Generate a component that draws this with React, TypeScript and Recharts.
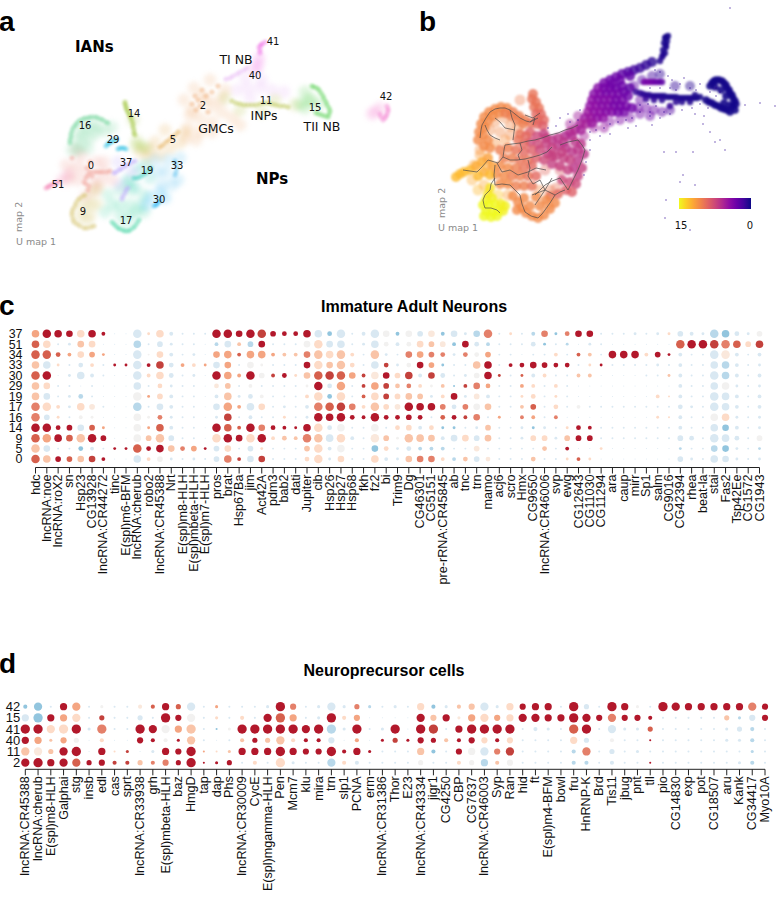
import React from "react";
import { ScatterChart, Scatter, XAxis, YAxis, ReferenceArea } from "recharts";

const SANS = "'Liberation Sans', Arial, sans-serif";
const DJ = "'DejaVu Sans', sans-serif";

/* ---------- panel c ---------- */
const rowsC = ["37","51","34","33","30","29","19","17","16","14","9","5","0"];
const genesC = ["hdc","lncRNA:noe","lncRNA:roX2","sn","Hsp23","CG13928","lncRNA:CR44272","tinc","E(spl)m6-BFM","lncRNA:cherub","robo2","lncRNA:CR45388","Nrt","E(spl)m8-HLH","E(spl)mbeta-HLH","E(spl)m7-HLH","pros","brat","Hsp67Ba","jim","Act42A","pdm3","bab2","dati","Jupiter","cib","Hsp26","Hsp27","Hsp68","fkh","fz2","bi","Trim9","Dg","CG46301","CG5151","pre-rRNA:CR45845","ab","tnc","trn","mamo","acj6","scro","Hmx","CG9650","lncRNA:CR46006","svp","ewg","CG12643","CG11030","CG11294","ara","caup","mirr","Sp1","salm","CG9016","CG42394","rhea","beat-la","stai","Fas2","Tsp42Ee","CG1572","CG1943"];

const s37=[7,8,7,6,7,7,3,0,0,8, 2,7,3,1,1,1,8,8,6,8, 8,5,4,4,7,7,4,8,1,3, 8,6,3,6,5,6,3,6,2,6, 8,1,2,1,3,6,2,4,6,6, 1,1,1,2,1,2,2,5,3,2, 8,7,4,2,5];
const z37=[2,4,4,4,1,4,4,-1,-1,-1, 1,1,-1,-1,-1,-1,4,4,4,4, 3.5,4,4,4,4,-1,-2,-1,-1,-1, -1,0,-2,0,-1,0.5,-2,-1,-1,-1.5, 2.5,-1,1,-1,-1.5,2.5,-2,2.5,4,4, -1,-1,-1,-1,-1,-1,1,-1,-1,-1, -1.5,-2,-1,-1,0];
const s51=[7,7,1,2,6,6,0,0,0,7, 1,5,2,1,1,0,3,6,3,5, 6,1,1,1,6,8,6,7,1,2, 7,4,3,4,6,5,5,3,6,4, 3,1,1,1,4,2,1,2,0,2, 1,0,0,0,0,0,0,8,8,8, 8,8,7,5,7];
const z51=[3,1,-1,-1,1.5,1,-1,-1,-1,-1.5, -1,-1,-1,-1,-1,-1,-1.5,-1,1.5,-1.5, 4,-1,-1,-1,0,1,-1,-1,-1,-1, -1,0,-1,0,1,1.5,0.5,-2,4,-1, -1.5,-1,-1,-1,-1,-2,-1,-1.5,-1,-1, -1,-1,-1,-1,-1,-1,-1,3,4,4, 3.5,2.5,3,1,3.5];
const s34=[8,8,4,3,6,5,2,0,0,8, 1,6,3,1,2,0,6,7,3,7, 7,3,3,3,6,8,7,8,3,1, 8,2,1,6,6,5,4,2,4,4, 5,1,1,0,1,1,3,1,3,3, 1,7,7,7,3,5,2,3,1,1, 8,8,3,1,3];
const z34=[3,3,3,2,1,2,2,-1,-1,-1, 0,1,-1,-1,-1,-1,2,2,3,2, 2,2,1.5,1.5,2.5,1.5,1,1.5,1,-1, 1.5,-1,-1,2.5,2,2.5,2.5,-1,2.5,0, 2,-1,-1,-1,-1,-1,1,-1,3,1.5, -1,4,4,4,1,4,4,-1,-1,-1, -1,0.5,-1,-1,-1];
const s33=[7,7,2,1,4,3,1,2,2,8, 3,7,4,3,3,2,6,6,1,6, 2,1,1,1,6,8,6,8,4,1, 7,4,2,4,6,5,2,1,1,7, 7,1,3,4,6,5,4,4,1,2, 2,1,1,1,1,2,1,3,1,1, 7,7,3,1,2];
const z33=[1.5,-1,1,-1,-1,1,-1,4,4,-1, 4,3.5,-1,2,1,2,-1,2,-1,0, 0,-1,-1,-1,4,1,1.5,1.5,1,-1, -1,3.5,-1,0,4,2,-2,-1,-1,1.5, 4,-1,4,4,4,4,4,4,-1,1, 4,-1,-1,-1,-1,-1,-1,-1,-1,-1, -1,-1.5,-1,-1,-1];
const s30=[8,8,0,2,7,3,1,0,0,8, 3,7,4,1,2,0,8,7,3,8, 5,3,4,2,6,8,8,8,6,3, 7,6,5,7,3,6,4,1,2,5, 7,2,1,2,3,3,1,1,3,3, 0,0,0,0,1,1,2,3,1,1, 8,7,3,1,3];
const z30=[3,4,-1,-1,-1,-1,-1,-1,-1,-1, 1,1,-1,-1,-1,-1,4,2,2,4, 0,3.5,4,1,1.5,3,3.5,3,2,3.5, 0.5,4,1,3.5,-1,3.5,-1,-1,-1,0, 4,3.5,-1,3,-1,1,-1,-1,1.5,1.5, -1,-1,-1,-1,-1,-1,1.5,-1,-1,-1, -1,-1.5,-1,-1,-1];
const s29=[7,6,1,1,0,1,0,0,0,7, 1,4,2,1,1,0,4,5,1,3, 1,1,1,1,2,8,4,8,1,3, 7,5,4,4,3,2,3,1,3,6, 4,1,1,3,3,1,3,1,0,0, 0,0,0,0,0,0,0,3,1,1, 7,7,2,1,2];
const z29=[1.5,1,-1,-1,-1,-1,-1,-1,-1,-1, -1,1,-1,-1,-1,-1,0.5,1.5,-1,0, -1,-1,-1,-1,0,4,-1,2,-1,3.5, 2,3.5,1.5,2.5,1,0,1.5,-2,3.5,2.5, 2,-1,-1,2,1,-1,1,-1,-1,-1, -1,-1,-1,-1,-1,-1,-1,-1,-1,-1, -1,0,-1,-1,-1];
const s19=[7,6,1,2,4,1,0,0,0,8, 2,5,3,1,1,0,3,7,2,4, 3,1,1,1,3,8,4,8,1,3, 7,5,5,6,5,2,3,6,2,5, 3,1,1,2,4,1,2,1,0,0, 0,0,0,0,0,3,1,3,1,1, 8,7,3,1,3];
const z19=[1.5,-1,-1,-1,-1.5,-1,-1,-1,-1,0, 2,1,-1,-1,-1,-1,-1,1.5,-1,-1, 0,-1,-1,-1,1,1,-2,1,-1,3, 1,3.5,1,1.5,1.5,-1,1,4,-1,0.5, -1,-1,-1,1,1,-1,1,-1,-1,-1, -1,-1,-1,-1,-1,1,1,-1,-1,-1, -1,-1,-1,-1,-1];
const s17=[8,8,3,2,7,5,1,0,0,8, 1,6,3,1,1,0,6,8,3,7, 6,1,2,1,3,8,8,8,6,3, 8,5,5,8,7,7,5,4,5,6, 6,1,1,3,5,1,4,1,3,1, 1,1,1,1,1,1,1,4,2,1, 8,7,3,1,3];
const z17=[2.5,1,1,-1,1,0.5,-1,-1,-1,-1.5, -1,-1,-1,-1,-1,-1,-1,2,2,-1, 1,-1,-1,-1,-1,2.5,3,3.5,2.5,1, 1.5,1,0.5,4,4,4,2.5,-1,2.5,0, 1.5,-1,-1,1.5,3,-1,1,-1,0,-1, -1,-1,-1,-1,-1,-1,-1,-1,-1,-1, -1,-1,-1,-1,-1];
const s16=[8,5,2,1,3,2,0,0,0,7, 2,4,2,1,1,0,2,7,1,3, 1,1,2,1,2,8,7,8,4,3, 8,4,4,5,4,1,4,4,3,6, 1,2,0,3,3,1,3,0,0,0, 0,0,0,0,0,2,1,3,1,1, 7,7,2,1,2];
const z16=[2.5,-1,1,-1,0,0,-1,-1,-1,0, 0,2.5,-1,-1,-1,-1,-1,3.5,-1,-1, -1,-1,1,-1,-1,4,4,4,4,4, 4,4,4,4,4,-1,3,4,3.5,2.5, -1,2,-1,2.5,2,-1,2.5,-1,-1,-1, -1,-1,-1,-1,-1,1,1,-1,-1,-1, 0,1,-1,-1,-1];
const s14=[8,8,4,5,6,5,2,0,0,7, 2,7,3,1,1,0,8,7,3,8, 6,4,3,2,7,8,4,7,1,1, 7,1,4,5,3,4,2,2,1,2, 5,1,1,2,2,2,1,2,4,3, 1,1,1,1,1,1,1,3,1,1, 7,6,3,1,2];
const z14=[4,4,4,4,-1,3,2,-1,-1,0, 2,3,-1,-1,-1,-1,4,3,3,4, 2.5,4,4,4,4,1,-1,0,-1,-1, 0,-1,1,1,-1,1,-2,-2,-1,-1, 1.5,-1,-1,-1,-2,-1,-1,1,4,4, -1,-1,-1,-1,-1,-1,-1,-1,-1,-1, -1,-2,-1,-1,-1];
const s9=[8,8,7,6,8,8,5,0,0,7, 5,8,5,1,1,0,8,8,6,8, 8,3,4,3,8,8,7,8,3,1, 8,5,2,8,7,6,3,6,6,5, 6,1,1,2,5,5,2,5,5,5, 1,1,1,1,1,1,1,5,4,1, 8,7,4,1,5];
const z9=[3,2,4,3,1.5,4,4,-1,-1,0, 1.5,1.5,-1,-1,-1,-1,1,4,4,1, 4,1,1.5,1.5,2.5,1.5,-1,1,-1,-1, 0.5,1.5,0,1.5,1.5,1.5,-1,-1,1,-1, 1.5,-1,-1,-1,1,1,-1,1.5,4,4, -1,-1,-1,-1,-1,-1,-1,-1,-1,-1, -1,-1,-1,-1,0];
const s5=[8,6,1,1,4,3,1,2,2,8, 4,7,6,4,5,2,5,6,1,5, 2,1,1,1,5,8,3,7,1,1, 6,4,2,4,3,3,3,1,1,5, 1,1,1,1,1,4,1,3,0,0, 2,0,0,0,0,0,0,2,1,1, 6,6,2,1,2];
const z5=[1.5,-1,-1,-1,-2,-1,-1,4,4,3, 4,4,1.5,2.5,2,4,-1,1,-1,-1, 1,-1,-1,-1,1.5,1,-1,0,-1,-1, -2,1,-1,-1,-1.5,-1.5,-1.5,-1,-1,0.5, -1,-1,-1,-1,-1,1.5,-1,4,-1,-1, 1,-1,-1,-1,-1,-1,-1,-1.5,-1,-1, -1.5,-2,-1,-1,-1.5];
const s0=[8,7,5,5,6,6,3,0,0,7, 3,5,2,1,2,1,5,7,3,6, 6,1,1,1,4,8,2,6,1,1, 7,3,2,6,6,6,3,3,4,5, 4,1,1,1,4,1,1,2,3,2, 0,0,0,0,0,0,0,5,2,1, 7,6,2,1,2];
const z0=[3,1.5,4,3,1.5,3.5,4,-1,-1,-1, 1,0,-1,-1,-1,-1,-1,2.5,3.5,-1, 3.5,-1,-1,-1,1,1,-1,1,-1,-1, 1,-1,-1,1.5,2.5,2.5,1,-1.5,1.5,-1, 0.5,-1,-1,-1,1.5,-1,-1,1,3,1, -1,-1,-1,-1,-1,-1,-1,-1,-1,-1, -1,-1,-1,-1,-1];
const sizesC=[s37,s51,s34,s33,s30,s29,s19,s17,s16,s14,s9,s5,s0];
const colorsC=[z37,z51,z34,z33,z30,z29,z19,z17,z16,z14,z9,z5,z0];

/* ---------- panel d ---------- */
const rowsD = ["42","15","41","40","11","2"];
const genesD = ["lncRNA:CR45388","lncRNA:cherub","E(spl)m8-HLH","Galphai","stg","insb","edl","cas","sprt","lncRNA:CR33938","grh","E(spl)mbeta-HLH","baz","HmgD","tap","dap","Phs","lncRNA:CR30009","CycE","E(spl)mgamma-HLH","Pen","Mcm7","klu","mira","trn","slp1","PCNA","erm","lncRNA:CR31386","Thor","E23","lncRNA:CR43334","jigr1","CG4250","CBP","CG7637","lncRNA:CR46003","Syp","Ran","hid","ft","E(spl)m4-BFM","bowl","fru","HnRNP-K","Brd","Tis11","jbug","pnt","tll","pio","CG14830","exp","pot","CG18507","aru","Kank","CG34417","Myo10A"];
const sd42=[3,7,1,6,7,1,2,1,1,3, 3,6,4,7,1,2,1,1,1,2, 8,5,1,2,7,2,4,2,1,2, 1,6,3,2,3,5,7,2,6,5, 6,6,1,8,4,1,8,6,2,1, 8,7,6,6,6,6,6,7,5];
const zd42=[-2,-2,-1,4,2,-1,0,-1,-1,0.5, 3,4,3,-1,-1,2,-1,-1,-1,-1, 4,2.5,-1,-1,-1,-1,2.5,-1.5,-1,-1, -1,1,-2,-1,1.5,1.5,-1,-1,1,4, 4,4,-1,4,-1,-1,4,4,0,-1, 4,4,4,4,4,4,4,2.5,4];
const sd15=[6,8,6,6,7,1,4,1,1,4, 1,8,5,7,1,2,1,3,1,7, 8,6,1,2,8,3,5,0,0,0, 0,7,5,6,2,6,7,5,6,7, 7,6,6,8,7,5,7,5,5,3, 1,1,1,1,1,4,2,5,5];
const zd15=[-1,-2,4,2,1,-1,3.5,-1,-1,-1, -1,4,4,0,-1,1,-1,1,-1,4, 3,2,-1,-1,4,1,2,-1,-1,-1, -1,4,1.5,4,0.5,2,1,2,1,4, 4,4,4,4,4,4,2.5,4,4,4, -1,-1,-1,-1,-1,1.5,-1.5,-1,4];
const sd41=[8,8,7,8,8,2,8,1,1,8, 7,7,6,8,1,1,2,8,8,8, 8,8,7,8,8,2,8,1,2,8, 0,8,8,1,6,8,8,8,8,1, 3,2,1,8,8,1,7,2,2,4, 1,1,1,1,1,2,4,3,1];
const zd41=[4,4,1,1,4,-1,2.5,-1,-1,4, 4,0,2,1.5,-1,-2,0,4,4,4, 4,4,4,4,-1.5,-1,4,-1,-1,4, -1,4,3.5,-1,4,4,4,4,4,-1, -1,-1,-1,3,4,-1,-1,-1,-1,3, -1,-1,-1,-1,-1,-1,-1,-1.5,-1];
const sd40=[6,6,2,5,4,0,3,0,0,5, 3,3,2,7,1,0,1,3,4,4, 7,3,3,3,5,0,3,0,2,4, 2,5,4,3,3,5,5,3,5,1, 1,1,1,6,4,0,3,1,1,1, 1,1,1,1,1,2,2,3,1];
const zd40=[4,2,1.5,2,0,-1,1,-1,-1,4, 4,0,4,1.5,-1,-1,-1,1.5,4,1.5, 1.5,1,4,4,-1,-1,2,-1,4,3.5, 4,4,4,1.5,4,4,1,4,1,-1, -1,-1,-1,1,-1,-1,0,-1,-1,4, -1,-1,-1,-1,-1,-1,-1,-1.5,-1];
const sd11=[7,7,4,7,8,0,6,1,2,0, 2,6,5,8,1,1,2,6,6,6, 8,6,5,5,8,3,6,2,1,1, 1,6,3,1,5,6,7,5,7,1, 1,1,1,3,7,1,4,1,2,1, 1,1,1,1,1,1,1,2,1];
const zd11=[1.5,0.5,1.5,4,4,-1,4,1,3.5,-1, -1,4,4,4,2,1,1.5,4,4,4, 4,4,4,4,4,4,4,4,-1,-1, -1,1.5,-2,-1,4,0,-1,2.5,3.5,-1, -1,-1,-1,-1.5,2.5,-1,-1,-1,-1,-1, -1,-1,-1,-1,-1,-1,-1,-1.5,-1];
const sd2=[7,8,6,7,7,4,5,3,3,4, 3,5,4,8,1,2,4,1,3,1, 8,2,1,1,7,3,3,1,1,1, 1,4,1,1,3,4,6,3,5,1, 1,1,1,3,3,1,3,1,1,1, 1,1,1,1,1,1,2,3,1];
const zd2=[4,4,4,4,3,4,4,3.5,3.5,1.5, 2.5,2.5,4,4,4,4,4,-1,1,-1, 1,-1,-1,-1,-1.5,1,-1,-1,-1,-1, -1,0,-1,-1,1,0,-1.5,1.5,0,-1, -1,-1,-1,-1.5,-1.5,-1,-1,-1,-1,4, -1,-1,-1,-1,-1,-1,-1,-1.5,-1];
const sizesD=[sd42,sd15,sd41,sd40,sd11,sd2];
const colorsD=[zd42,zd15,zd41,zd40,zd11,zd2];

/* ---------- panel a: cluster point clouds ---------- */
const cl16=[[70,143],[70,140],[71,137],[71,134],[72,131],[73,128],[75,126],[76,124],[78,122],[80,120],[83,119],[85,118],[88,118],[90,117],[93,117],[96,117],[98,118],[101,119],[103,120],[106,122],[108,123]];
const cl16h=[[76,140],[80,132],[86,127],[92,125],[98,127],[105,131],[82,145],[90,138],[112,127],[72,150],[84,135],[96,133],[78,150],[88,148]];
const cl14=[[125,102],[125,104],[126,106],[126,108],[127,110],[128,112],[129,114],[130,116],[131,118],[132,121],[133,124],[133,127],[134,130],[134,133],[135,135]];
const cl14h=[[137,141],[142,147],[146,148],[136,146],[133,120]];
const cl29=[[106,146],[108,144],[109,143],[111,142],[113,141],[115,140],[117,139],[118,149],[120,148],[122,148],[124,148],[126,149]];
const cl0=[[90,172],[87,168],[92,176],[86,178],[84,182],[89,186],[94,172],[97,172],[100,172],[103,172],[107,172],[110,171],[72,158],[90,162],[88,175],[86,184],[88,190]];
const cl0h=[[78,165],[72,172],[68,180],[78,180],[96,162],[100,182],[104,162],[112,180],[96,190],[86,196],[76,150],[82,155],[66,165],[86,172],[94,182],[104,172]];
const cl51=[[46,188],[48,187],[49,186],[51,185],[53,184],[56,183],[58,182]];
const cl51h=[[62,180],[68,175]];
const cl9=[[72,215],[72,212],[73,209],[75,206],[76,203],[78,200],[80,198],[83,196],[85,195],[73,219],[74,222],[77,224],[80,226],[84,228],[87,228],[91,227],[94,226]];
const cl9h=[[92,192],[98,188],[82,210],[90,215],[97,204],[92,205],[85,203],[80,218],[88,220]];
const cl17=[[112,222],[114,224],[116,226],[118,228],[120,229],[123,230],[125,231],[128,231],[130,230],[133,228],[135,226],[137,223],[139,220]];
const cl17h=[[112,205],[120,205],[130,205],[140,205],[120,215],[130,215],[144,212],[108,195],[120,190],[132,190],[144,195],[105,212],[128,183],[126,222],[136,212]];
const cl30=[[154,206],[156,205],[157,204],[159,202],[160,200]];
const cl30h=[[150,197],[160,192],[165,198],[146,205]];
const cl33=[[175,175],[176,172],[177,168],[176,164],[175,161]];
const cl33h=[[168,160],[166,172],[172,185],[178,180],[180,158],[162,185],[158,172],[155,160]];
const cl19=[[134,178],[137,178],[140,177],[143,175],[146,173],[149,170],[151,168]];
const cl19h=[[128,180],[138,170],[145,165],[150,178],[135,187]];
const cl37=[[114,173],[116,172],[119,170],[121,169],[124,167],[126,165],[129,164],[132,162],[135,161],[122,199],[123,196],[125,193],[126,190],[128,188]];
const cl37h=[[118,162],[132,172],[120,185]];
const cl5=[[160,147],[163,145],[166,142],[169,140],[172,137],[175,135],[178,132]];
const cl5h=[[150,150],[155,142],[170,148],[180,143],[160,155],[148,158],[140,152],[185,132],[165,130]];
const cl2=[[195,96],[202,90],[192,104],[200,106],[208,112],[212,92],[218,86],[198,100],[206,96],[196,110]];
const cl2h=[[190,115],[200,118],[212,122],[222,112],[232,118],[220,100],[188,128],[200,132],[212,132],[225,90],[240,125],[184,100],[206,100],[196,140],[186,138],[210,80],[194,88],[202,96],[212,106],[192,110]];
const cl40=[[226,79],[230,78],[233,76],[237,74],[240,72],[244,70],[247,68]];
const cl40h=[[237,90],[248,88],[260,88],[272,90],[284,92],[245,78],[262,80],[250,98]];
const cl41=[[259,47],[261,45],[262,44],[265,42],[260,50],[260,53]];
const cl41h=[[259,58],[258,65],[255,70]];
const cl11=[[232,101],[236,103],[240,104],[244,105],[248,105],[252,105],[256,105],[260,104],[264,103],[268,103],[272,104],[276,105],[280,106],[284,106],[288,107]];
const cl11h=[[240,110],[262,112],[275,100],[295,105],[225,98]];
const cl15=[[312,86],[314,87],[317,88],[319,90],[321,93],[323,96],[324,99],[326,102],[327,105],[329,108],[330,111],[329,114],[328,117],[325,116],[322,115],[319,114],[316,113]];
const cl15h=[[305,92],[308,100],[305,108],[312,100],[318,105],[300,104]];
const cl42=[[387,106],[388,109],[388,111],[387,114],[386,116],[385,118],[383,120],[381,117],[380,114]];
const cl42h=[[375,112],[380,108],[372,114]];
const clusterColors=["#f09e94","#efae78","#e4ad55","#d8c674","#b8c44c","#a4c845","#5fd35c","#78d8a0","#50d8a8","#3ccdbd","#38c4e4","#30b8f4","#62c4f0","#bda8fa","#e6b4f5","#f070e6","#f488d2","#f58ab8"];
const cloudCores=[cl0,cl2,cl5,cl9,cl11,cl14,cl15,cl16,cl17,cl19,cl29,cl30,cl33,cl37,cl40,cl41,cl42,cl51];
const cloudHaze=[cl0h,cl2h,cl5h,cl9h,cl11h,cl14h,cl15h,cl16h,cl17h,cl19h,[],cl30h,cl33h,cl37h,cl40h,cl41h,cl42h,cl51h];

/* ---------- panel b: pseudotime cloud [x,y,value] ---------- */
const bTop=[[668,36,.3],[666,37,.3],[665,38,.3],[667,41,.3],[664,43,.3],[666,45,.4],[666,47,.4],[663,50,.4],[665,53,.5],[663,55,.5],[662,57,.6],[660,61,.7]];
const bNeck=[[652,62,.8],[646,65,1],[640,68,1.2],[634,70,1.5],[628,72,2],[622,74,2.5],[616,77,3],[610,80,3],[604,83,3.5],[630,76,2.5],[620,80,3],[612,84,3.2]];
const bCentre=[[598,88,4],[604,88,3.5],[610,88,3.5],[616,88,3],[622,86,3],[594,94,4],[600,94,4],[606,94,3.5],[612,94,3.5],[618,94,3.5],[624,92,3],[630,88,2.5],[592,100,4.5],[598,100,4],[604,100,4],[610,100,4],[616,100,3.5],[622,100,3.5],[628,96,3],[590,106,4.5],[596,106,4.5],[602,106,4],[608,106,4],[614,106,3.5],[620,106,3.5],[626,106,3.5],[632,108,3.2],[588,112,5],[594,112,4.5],[600,112,4.5],[606,112,4],[612,112,4],[618,112,3.5],[624,112,3.5],[585,118,5],[591,118,5],[597,118,4.5],[603,118,4.5]];
const bCloud=[[638,108,3],[646,108,3],[654,110,2.8],[662,112,2.6],[670,110,2],[640,114,3.2],[650,116,3],[630,118,3.5],[620,120,3.8],[610,122,4],[640,100,2.8],[634,86,2.6],[642,80,2],[652,76,1.5],[660,74,1],[675,86,1],[690,86,.8],[604,128,4.8],[594,128,5],[584,136,5.5],[578,116,5.2],[570,124,5.5]];
const bStem=[[580,124,5.5],[586,124,5.5],[592,123,5],[575,130,6],[581,130,5.5],[570,132,6],[565,136,6],[572,136,6],[558,138,6.5],[564,142,6.5],[552,140,6.5],[558,146,6.5],[546,144,7],[552,148,7],[566,148,6.5],[575,142,6.5],[572,152,6.5],[578,150,6.5],[578,160,6.5],[574,168,6.5],[581,144,6.5],[584,154,6.5],[582,168,7],[578,176,7],[570,160,7],[562,152,7],[552,156,7.5],[546,138,7]];
const bNavy=[[636,92,1.2],[640,93,1],[643,94,.9],[646,95,.8],[649,95,.8],[652,96,.7],[655,96,.6],[658,96,.6],[661,96,.6],[664,96,.5],[667,97,.5],[670,97,.5],[673,97,.5],[676,97,.5],[679,98,.5],[682,98,.4],[685,98,.4],[688,98,.4],[691,98,.4],[694,98,.4],[697,98,.3],[700,97,.3],[676,102,.8],[670,106,1.2],[682,102,.6],[662,100,.8],[654,100,1],[646,99,1.2],[690,102,.6],[695,95,.4]];
const bStreak=[[644,82,3.5],[647,82,3.5],[650,82,3.5],[653,82,3.2],[656,82,3],[659,82,2.8],[662,82,2.5]];
const bTii=[[710,86,.2],[714,81,.2],[719,80,.2],[724,83,.2],[727,88,.2],[730,93,.2],[733,98,.2],[736,104,.2],[735,110,.2],[730,112,.2],[724,109,.2],[718,106,.2],[712,103,.3],[706,100,.3],[724,103,.2],[730,105,.2],[726,96,.2],[721,90,.2],[715,87,.3],[712,83,.2],[716,80,.2],[722,81,.2],[726,85,.2],[729,90,.2],[732,95,.2],[735,101,.2],[733,106,.2],[727,110,.2],[721,108,.2],[715,105,.2],[709,102,.3]];
const bLobe=[[478,140,10],[479,132,10],[481,124,10],[484,117,10],[489,112,10],[495,109,10],[501,107,10],[507,108,10],[513,112,9.5],[519,116,9.5],[525,120,9.5],[531,123,9],[537,124,8.5],[533,94,9],[532,99,9],[536,102,9],[534,107,9],[539,108,9],[536,114,8.5],[541,114,8.5],[538,120,8.5],[544,120,8.5],[543,126,8],[484,146,10],[490,148,10],[488,140,10],[483,135,10],[485,127,10],[488,121,10],[493,116,10],[499,113,10],[505,113,9.5],[511,116,9.5],[517,120,9.5],[523,124,9.5],[530,132,8],[537,136,7.5],[544,134,7],[530,142,7.5],[538,144,7.5],[520,134,9],[526,136,8.5],[518,140,9],[524,144,8.5]];
const bInner=[[495,122,10],[505,118,10],[490,130,10],[500,132,10],[510,135,10],[518,128,10],[495,143,10.5],[505,140,10.5],[510,126,10],[480,155,11],[487,165,11.5],[484,185,11.5],[472,180,11.5],[478,190,12],[474,165,11],[498,195,12.5],[508,195,11],[480,150,10.5],[540,190,10],[550,190,9.5],[548,205,10],[556,188,9],[560,170,8],[545,170,8.5],[520,100,9.5]];
const bMiddle=[[500,150,9.5],[508,148,9.5],[516,150,9],[524,152,8.5],[532,150,8],[540,150,7.5],[548,154,7],[556,156,7],[564,158,7],[504,158,9.5],[512,158,9.5],[520,160,9],[528,160,9],[536,158,8],[544,160,7.5],[552,164,7],[560,166,7],[568,170,7],[500,166,10],[508,168,10],[516,168,9.5],[524,168,9],[532,166,8.5],[496,174,10],[504,176,10],[512,176,9.5],[520,176,9.5],[528,176,9],[536,176,8.5],[500,184,10],[508,184,10],[516,186,9.5],[524,186,9.5],[532,186,9],[562,180,7.5],[570,182,7.5],[576,184,7.5],[566,190,8],[572,192,8],[558,194,8.5],[550,196,9]];
const bBottom=[[513,196,10],[518,202,10],[522,208,10],[526,213,10],[532,216,10],[538,218,10],[544,215,10],[550,209,10],[555,203,10],[530,206,10],[540,206,10],[524,198,10],[536,197,10],[546,200,10],[517,210,10]];
const bTail=[[456,177,12],[460,174,12],[464,172,12],[470,170,12],[476,166,11.5],[482,162,11.5],[488,158,11],[492,166,11],[484,172,11.5],[490,175,12],[478,176,12]];
const bYellow=[[490,188,13.5],[488,194,13.5],[486,200,14],[492,198,14],[483,205,15],[489,205,15],[495,204,14.5],[501,204,14],[505,206,14],[486,211,15],[492,212,15],[498,211,14.5],[503,211,14],[491,217,15],[484,216,15],[497,216,15]];
const bSparse=[[655,70],[660,72],[668,76],[672,80],[680,84],[690,88],[696,90],[700,84],[684,78],[676,90],[660,88],[650,88],[670,88],[640,105],[648,104],[656,106],[664,112],[650,112],[640,112],[632,118],[626,120],[618,122],[610,124],[604,128],[596,130],[590,132],[650,116],[660,118],[670,114],[682,110],[692,108],[700,104],[708,108],[704,116],[695,114],[703,124],[716,96],[720,92],[716,88],[710,92],[745,105],[760,103],[775,106],[578,120],[570,122],[556,126],[548,128],[560,118],[568,114],[580,110],[652,125],[636,126],[628,128],[610,134],[600,136],[590,140],[590,150],[584,175],[586,162],[720,140],[725,150],[715,142],[664,152],[676,152],[693,152],[683,175],[695,185],[680,182],[666,200],[665,218],[690,230],[710,132],[730,8]];
const bLines=[
 [[463,170],[470,171],[477,172],[482,167],[488,160],[498,163],[503,157],[510,160],[517,160],[525,159],[533,157],[540,155],[547,152],[552,147]],
 [[480,138],[481,130],[482,125],[486,118],[490,112],[495,109],[500,108],[505,108],[510,110],[515,114],[520,118],[526,121],[530,122],[538,118]],
 [[495,118],[500,122],[505,128],[510,129],[515,130]],
 [[510,110],[512,118],[515,125],[514,132],[513,140]],
 [[500,140],[495,138],[490,135],[487,130],[485,125]],
 [[503,157],[504,150],[505,145],[512,144],[520,143],[528,141],[535,140],[542,138],[550,135],[558,133],[565,130],[572,128],[578,125]],
 [[495,178],[491,184],[490,190],[485,195],[483,200],[484,205],[485,208],[491,208],[497,210],[500,213]],
 [[495,165],[494,175],[495,185],[502,184],[510,185],[515,190],[520,195],[522,204],[525,212],[531,216],[538,218],[542,214],[545,210],[550,203],[555,195],[560,192],[565,190]],
 [[535,195],[540,190],[545,185],[552,181],[560,178],[564,184],[568,190],[573,180],[578,170],[582,160],[585,150],[582,145],[578,140],[568,142],[560,145]],
 [[545,190],[532,195]],[[545,190],[535,205]],[[545,190],[540,180]],[[545,190],[552,178]],[[545,190],[555,195]],
 [[525,115],[533,118],[540,113]],[[530,122],[535,118],[533,125]],
 [[497,163],[502,172],[510,170],[518,175],[528,172],[536,168],[546,170]],
 [[528,160],[530,168],[528,176],[533,184],[540,180]],
 [[520,143],[522,150],[518,155],[520,160]],
];
const plasmaStops=["#0d0887","#41049d","#6a00a8","#8f0da4","#b12a90","#cc4778","#e16462","#f1844b","#fca636","#fcce25","#f0f921"];

/* ---------- helpers ---------- */
const divColor = (z: number): string => {
  const m: Record<string,string> = {"4":"#b2182b","3.5":"#c3413c","3":"#d6604d","2.5":"#e4806a","2":"#f4a582","1.5":"#f9c4a8","1":"#fddbc7","0.5":"#fae8dc","0":"#f2f1f0","-1":"#d9e8f2","-1.5":"#b8d8ea","-2":"#92c5de","-3":"#4393c3"};
  return m[String(z)] ?? "#f2f1f0";
};
const plasma = (v: number): string => {
  const shifted = v >= 8 ? v + 0.7 : v;
  const t = Math.min(0.9999, shifted / 15) * 10;
  const i = Math.floor(t);
  const a = plasmaStops[i], b = plasmaStops[i + 1];
  const p = (c: string, k: number) => parseInt(c.slice(k, k + 2), 16);
  const f = t - i;
  const mix = (k: number) => Math.round(p(a, k) * (1 - f) + p(b, k) * f);
  return `rgb(${mix(1)},${mix(3)},${mix(5)})`;
};
const dotTable = (sizes: number[][], colors: number[][]) =>
  sizes.flatMap((row, r) => row.map((s, g) => ({ g, r, s, z: colors[r][g] })));

const DotShape = (k: number) => (p: any) => (
  <circle cx={p.cx} cy={p.cy} r={0.5 + p.payload.s * k} fill={divColor(p.payload.z)} />
);
const NoShape = () => null;
const RoundShape = (r: number, color: string, op: number) => (p: any) => (
  <circle cx={p.cx} cy={p.cy} r={r} fill={color} fillOpacity={op} />
);
const ValueShape = (r: number, op: number) => (p: any) => (
  <circle cx={p.cx} cy={p.cy} r={r} fill={plasma(p.payload.v)} fillOpacity={op} />
);
const xy = (a: number[][]) => a.map(([x, y]) => ({ x, y }));
const xyv = (a: number[][]) => a.map(([x, y, v]) => ({ x, y, v }));

const GeneTick = (labels: string[]) => (p: any) => {
  const { x, y, payload } = p;
  return (
    <text x={x} y={y} transform={`rotate(-90 ${x} ${y})`} textAnchor="end" dominantBaseline="central"
      fontFamily={SANS} fontSize={12.6} fill="#111">
      {labels[payload.value]}
    </text>
  );
};

function DotPanel(props: any) {
  const { top, height, left, right, mTop, mBottom, axisH, yW, rows, genes, sizes, colors, yMax, yMin, k, tickM, rowFont } = props;
  const data = dotTable(sizes, colors);
  return (
    <div style={{ position: "absolute", left: 0, top }}>
      <ScatterChart width={780} height={height} margin={{ left, right, top: mTop, bottom: mBottom }}>
        <XAxis type="number" dataKey="g" domain={[0, genes.length - 1]} ticks={genes.map((_: any, i: number) => i)}
          interval={0} height={axisH} tick={GeneTick(genes)} tickSize={6} tickMargin={1} stroke="#222" />
        <YAxis type="number" dataKey="r" reversed domain={[yMin, yMax]} ticks={rows.map((_: any, i: number) => i)}
          interval={0} width={yW} axisLine={false} tickLine={false} tickSize={0} tickMargin={tickM}
          tickFormatter={(v: number) => rows[v]} tick={{ fontFamily: SANS, fontSize: rowFont, fill: "#111" }} />
        <Scatter data={data} isAnimationActive={false} shape={DotShape(k)} />
      </ScatterChart>
    </div>
  );
}

const T = (p: any) => <text {...p} />;

export default function App() {
  return (
    <div style={{ position: "absolute", left: 0, top: 0, width: 780, height: 897, background: "#fff", overflow: "hidden" }}>
      {/* panel a: haze layer, then cores */}
      <div style={{ position: "absolute", left: 0, top: 0, filter: "blur(2.5px)" }}>
        <ScatterChart width={400} height={260} margin={{ left: 0, right: 0, top: 0, bottom: 0 }}>
          <XAxis type="number" dataKey="x" domain={[0, 400]} hide />
          <YAxis type="number" dataKey="y" domain={[0, 260]} reversed hide />
          {cloudHaze.map((a, i) => (
            <Scatter key={"h" + i} data={xy(a)} isAnimationActive={false} shape={RoundShape(6.5, clusterColors[i], 0.2)} />
          ))}
        </ScatterChart>
      </div>
      <div style={{ position: "absolute", left: 0, top: 0, filter: "blur(1.2px)" }}>
        <ScatterChart width={400} height={260} margin={{ left: 0, right: 0, top: 0, bottom: 0 }}>
          <XAxis type="number" dataKey="x" domain={[0, 400]} hide />
          <YAxis type="number" dataKey="y" domain={[0, 260]} reversed hide />
          {cloudCores.map((a, i) => (
            <Scatter key={"c" + i} data={xy(a)} isAnimationActive={false} shape={RoundShape(2.6, clusterColors[i], 0.45)} />
          ))}
        </ScatterChart>
      </div>
      {/* panel b: cloud */}
      <div style={{ position: "absolute", left: 400, top: 0, filter: "blur(1.1px)" }}>
        <ScatterChart width={380} height={260} margin={{ left: 0, right: 0, top: 0, bottom: 0 }}>
          <XAxis type="number" dataKey="x" domain={[400, 780]} hide />
          <YAxis type="number" dataKey="y" domain={[0, 260]} reversed hide />
          <Scatter data={xyv(bInner)} isAnimationActive={false} shape={ValueShape(5.5, 0.38)} />
          <Scatter data={xyv(bCloud)} isAnimationActive={false} shape={ValueShape(5, 0.45)} />
          {[bCentre, bStem, bLobe, bMiddle, bBottom, bTail, bYellow, bNeck].map((a, i) => (
            <Scatter key={i} data={xyv(a)} isAnimationActive={false} shape={ValueShape(5, 0.8)} />
          ))}
          {[bNavy, bStreak, bTop].map((a, i) => (
            <Scatter key={"n" + i} data={xyv(a)} isAnimationActive={false} shape={ValueShape(3.2, 0.85)} />
          ))}
          <Scatter data={xyv(bTii)} isAnimationActive={false} shape={ValueShape(3.8, 0.9)} />
        </ScatterChart>
      </div>
      {/* panel b: trajectory, stray cells and colour bar */}
      <div style={{ position: "absolute", left: 400, top: 0 }}>
        <ScatterChart width={380} height={260} margin={{ left: 0, right: 0, top: 0, bottom: 0 }}>
          <defs>
            <linearGradient id="plasmaBar" x1="0" x2="1" y1="0" y2="0">
              {[...plasmaStops].reverse().map((c, i) => <stop key={c} offset={`${i * 10}%`} stopColor={c} />)}
            </linearGradient>
          </defs>
          <XAxis type="number" dataKey="x" domain={[400, 780]} hide />
          <YAxis type="number" dataKey="y" domain={[0, 260]} reversed hide />
          <Scatter data={xy(bSparse).map(d => ({ ...d, v: 1 }))} isAnimationActive={false} shape={ValueShape(0.7, 0.8)} />
          {bLines.map((l, i) => (
            <Scatter key={"l" + i} data={xy(l)} isAnimationActive={false} shape={NoShape}
              line={{ stroke: "#4a4a4a", strokeWidth: 0.7 }} />
          ))}
          <ReferenceArea x1={679} x2={751} y1={198} y2={209} fill="url(#plasmaBar)" fillOpacity={1} stroke="none" />
        </ScatterChart>
      </div>
      <DotPanel top={320} height={290} left={5.5} yW={30} right={20.5} mTop={10.6} mBottom={12.5} axisH={130} rowFont={12.4}
        rows={rowsC} genes={genesC} sizes={sizesC} colors={colorsC} yMin={-0.3} yMax={12.81} k={0.47} tickM={13} />
      <DotPanel top={695} height={202} left={0} yW={25.3} right={15} mTop={8.3} mBottom={7.7} axisH={120} rowFont={13}
        rows={rowsD} genes={genesD} sizes={sizesD} colors={colorsD} yMin={-0.3} yMax={5.59} k={0.52} tickM={5} />
      {/* annotations */}
      <svg width={780} height={897} style={{ position: "absolute", left: 0, top: 0, pointerEvents: "none" }}>
        <g fontFamily={SANS} fontWeight="bold" fontSize={28} fill="#000">
          <T x={-1} y={31}>a</T><T x={419} y={31}>b</T><T x={-1} y={315}>c</T><T x={-1} y={673}>d</T>
        </g>
        <g fontFamily={SANS} fontWeight="bold" fontSize={16} fill="#000" textAnchor="middle">
          <T x={414} y={311.5}>Immature Adult Neurons</T>
          <T x={384} y={676}>Neuroprecursor cells</T>
        </g>
        <g fontFamily={DJ} fontWeight="bold" fontSize={15} fill="#000">
          <T x={75} y={52}>IANs</T><T x={256} y={184}>NPs</T>
        </g>
        <g fontFamily={DJ} fontSize={12.5} fill="#111" textAnchor="middle">
          <T x={236} y={64}>TI NB</T><T x={216} y={133}>GMCs</T><T x={264} y={120}>INPs</T><T x={322} y={131}>TII NB</T>
        </g>
        <g fontFamily={DJ} fontSize={10} fill="#111" textAnchor="middle" dominantBaseline="central">
          <T x={273} y={41}>41</T><T x={255} y={75}>40</T><T x={386} y={96}>42</T><T x={266} y={100}>11</T>
          <T x={315} y={107}>15</T><T x={203} y={105}>2</T><T x={134} y={113}>14</T><T x={85} y={125}>16</T>
          <T x={113} y={139}>29</T><T x={173} y={139}>5</T><T x={126} y={162}>37</T><T x={177} y={165}>33</T>
          <T x={91} y={165}>0</T><T x={147} y={170}>19</T><T x={58} y={184}>51</T><T x={159} y={199}>30</T>
          <T x={83} y={211}>9</T><T x={126} y={220}>17</T>
        </g>
        <g fontFamily={DJ} fontSize={9.5} fill="#8a8a8a">
          <T x={16} y={245}>U map 1</T>
          <T x={22} y={232} transform="rotate(-90 22 232)">map 2</T>
          <T x={438} y={231}>U map 1</T>
          <T x={445} y={218} transform="rotate(-90 445 218)">map 2</T>
        </g>
        <g fontFamily={DJ} fontSize={10} fill="#111" textAnchor="middle">
          <T x={681} y={229}>15</T><T x={750} y={229}>0</T>
        </g>
      </svg>
    </div>
  );
}
